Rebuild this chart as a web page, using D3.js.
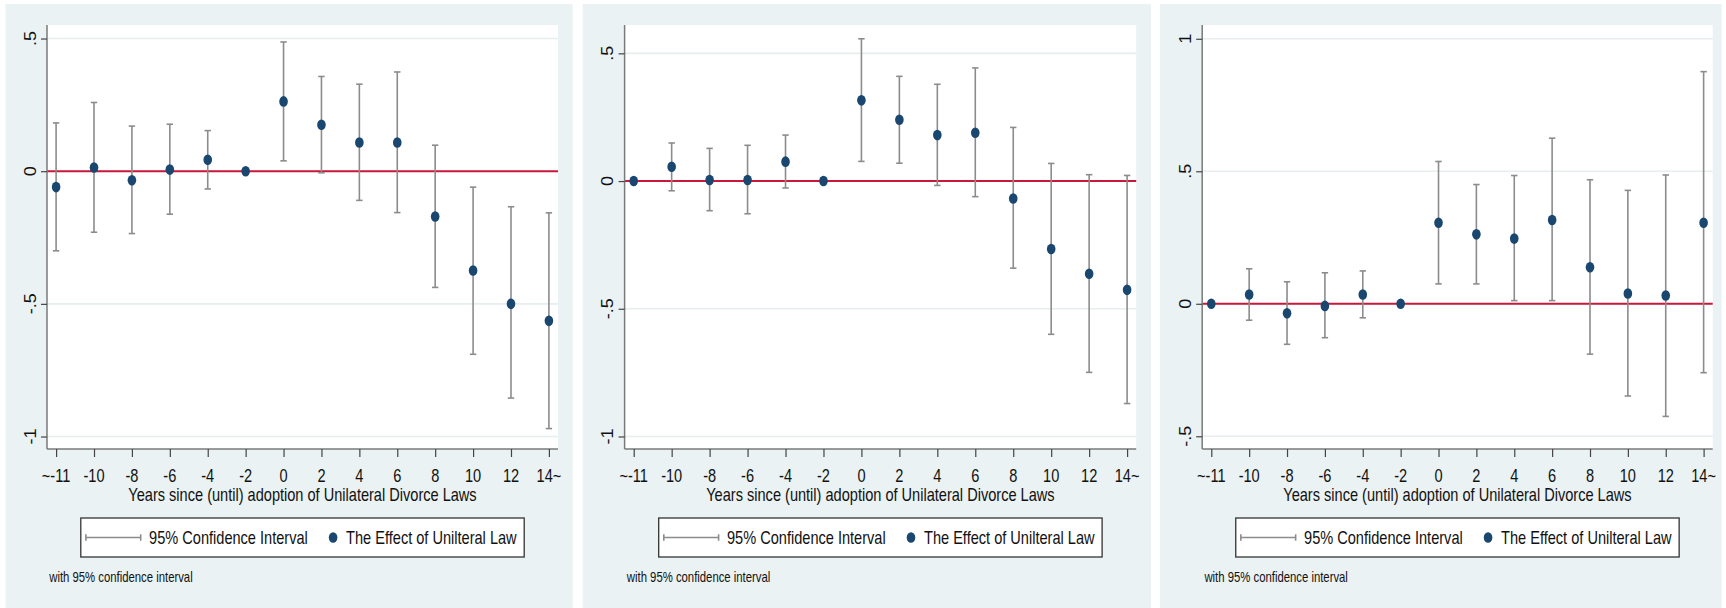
<!DOCTYPE html>
<html>
<head>
<meta charset="utf-8">
<script src="https://cdn.jsdelivr.net/npm/d3@7"></script>
<style>
  html, body { margin: 0; padding: 0; background: #ffffff; }
  svg { display: block; }
  text { font-family: "Liberation Sans", Arial, sans-serif; fill: #111; }
</style>
</head>
<body>
<svg id="chart" width="1726" height="608"></svg>
<script>
// Event-study categories (years relative to adoption of unilateral divorce laws)
const categories = ["~-11", "-10", "-8", "-6", "-4", "-2", "0", "2", "4", "6", "8", "10", "12", "14~"];

// Panel A: point estimates and 95% CI bounds (null = reference, no interval)
const effectA = [-0.06, 0.014, -0.034, 0.006, 0.043, 0, 0.263, 0.175, 0.108, 0.108, -0.171, -0.374, -0.50, -0.564];
const lowerA  = [-0.30, -0.23, -0.235, -0.162, -0.067, null, 0.039, -0.006, -0.11, -0.156, -0.438, -0.69, -0.855, -0.97];
const upperA  = [0.182, 0.259, 0.17, 0.177, 0.153, null, 0.487, 0.357, 0.328, 0.374, 0.098, -0.06, -0.134, -0.157];

// Panel B
const effectB = [0, 0.056, 0.004, 0.004, 0.076, 0, 0.316, 0.240, 0.18, 0.189, -0.068, -0.266, -0.363, -0.426];
const lowerB  = [null, -0.038, -0.116, -0.128, -0.027, null, 0.077, 0.07, -0.017, -0.061, -0.341, -0.60, -0.749, -0.871];
const upperB  = [null, 0.149, 0.128, 0.14, 0.18, null, 0.557, 0.41, 0.379, 0.443, 0.21, 0.069, 0.025, 0.022];

// Panel C
const effectC = [0, 0.035, -0.036, -0.008, 0.035, 0, 0.306, 0.262, 0.246, 0.316, 0.138, 0.039, 0.031, 0.306];
const lowerC  = [null, -0.062, -0.153, -0.128, -0.053, null, 0.075, 0.075, 0.012, 0.012, -0.19, -0.348, -0.425, -0.26];
const upperC  = [null, 0.132, 0.083, 0.117, 0.124, null, 0.537, 0.45, 0.484, 0.625, 0.468, 0.428, 0.486, 0.876];

// Y-axis ticks per panel
const yTicksA = [-1, -0.5, 0, 0.5];
const yTicksB = [-1, -0.5, 0, 0.5];
const yTicksC = [-0.5, 0, 0.5, 1];

// Y-axis ranges per panel
const yRangeA = [-1.047, 0.551];
const yRangeB = [-1.049, 0.611];
const yRangeC = [-0.548, 1.052];

// Text
const xTitle = "Years since (until) adoption of Unilateral Divorce Laws";
const legendCI = "95% Confidence Interval";
const legendPoint = "The Effect of Unilteral Law";
const noteText = "with 95% confidence interval";

// Styling
const C = {
  region: "#eaf2f3",
  grid: "#e6eef0",
  axis: "#7a7a7a",
  zero: "#c8193c",
  ci: "#8c8c8c",
  dot: "#1a476f",
  legendBorder: "#333333"
};
const FONT_SQ = 0.81;   // horizontal compression of the rendered type

const panels = [
  { effect: effectA, lower: lowerA, upper: upperA, yTicks: yTicksA, yRange: yRangeA,
    bg: [5.5, 572.7], plot: [47, 558] },
  { effect: effectB, lower: lowerB, upper: upperB, yTicks: yTicksB, yRange: yRangeB,
    bg: [582.7, 1151], plot: [624.6, 1136.2] },
  { effect: effectC, lower: lowerC, upper: upperC, yTicks: yTicksC, yRange: yRangeC,
    bg: [1160, 1721.7], plot: [1202.2, 1712.7] }
];

const PLOT_TOP = 25, PLOT_BOTTOM = 449;
const BG_TOP = 4, BG_BOTTOM = 608;

// Stata-like number labels: ".5", "-.5", "0", "1"
const stataFmt = v => {
  const s = d3.format("~g")(v).replace(/\u2212/g, "-");
  return s.replace(/^(-?)0\./, "$1.");
};

const svg = d3.select("#chart");

// helper for horizontally compressed text
function sqText(g, x, y, str, size, anchor, sq) {
  return g.append("text")
    .attr("transform", `translate(${x},${y}) scale(${sq},1)`)
    .attr("text-anchor", anchor)
    .style("font-size", size + "px")
    .text(str);
}

panels.forEach(p => {
  const g = svg.append("g");

  // graph region
  g.append("rect")
    .attr("x", p.bg[0]).attr("y", BG_TOP)
    .attr("width", p.bg[1] - p.bg[0]).attr("height", BG_BOTTOM - BG_TOP)
    .attr("fill", C.region);

  // plot region
  g.append("rect")
    .attr("x", p.plot[0]).attr("y", PLOT_TOP)
    .attr("width", p.plot[1] - p.plot[0]).attr("height", PLOT_BOTTOM - PLOT_TOP)
    .attr("fill", "#ffffff");

  const x = d3.scalePoint().domain(categories).range(p.plot).padding(0.24);
  const y = d3.scaleLinear().domain(p.yRange).range([PLOT_BOTTOM, PLOT_TOP]);

  // horizontal grid lines
  g.append("g").selectAll("line").data(p.yTicks).join("line")
    .attr("x1", p.plot[0]).attr("x2", p.plot[1])
    .attr("y1", d => y(d)).attr("y2", d => y(d))
    .attr("stroke", C.grid).attr("stroke-width", 1.6);

  // zero reference line
  g.append("line")
    .attr("x1", p.plot[0]).attr("x2", p.plot[1])
    .attr("y1", y(0)).attr("y2", y(0))
    .attr("stroke", C.zero).attr("stroke-width", 2);

  // y axis
  const yAxis = d3.axisLeft(y).tickValues(p.yTicks).tickSize(6).tickFormat("");
  const ya = g.append("g").attr("transform", `translate(${p.plot[0]},0)`).call(yAxis);
  ya.select(".domain").attr("d", `M-0,${PLOT_TOP}V${PLOT_BOTTOM}`).attr("stroke", C.axis).attr("stroke-width", 1.5);
  ya.selectAll(".tick line").attr("stroke", "#444").attr("stroke-width", 1.2);

  // y tick labels (rotated)
  const yLabX = p.plot[0] - 17.4;
  p.yTicks.forEach(t => {
    g.append("text")
      .attr("transform", `translate(${yLabX},${y(t)}) scale(0.95,1) rotate(-90)`)
      .attr("text-anchor", "middle")
      .attr("dy", "0.36em")
      .style("font-size", "18px")
      .text(stataFmt(t));
  });

  // x axis
  const xAxis = d3.axisBottom(x).tickSize(8).tickFormat("");
  const xa = g.append("g").attr("transform", `translate(0,${PLOT_BOTTOM})`).call(xAxis);
  xa.select(".domain").attr("d", `M${p.plot[0]},0H${p.plot[1]}`).attr("stroke", C.axis).attr("stroke-width", 1.5);
  xa.selectAll(".tick line").attr("stroke", "#444").attr("stroke-width", 1.2);

  // x tick labels
  categories.forEach(c => sqText(g, x(c), 481.5, c, 18, "middle", FONT_SQ));

  // x axis title
  const cx = (p.plot[0] + p.plot[1]) / 2;
  sqText(g, cx, 501, xTitle, 18, "middle", FONT_SQ);

  // confidence intervals
  const idx = d3.range(categories.length).filter(i => p.lower[i] !== null);
  const ci = g.append("g").attr("stroke", C.ci).attr("stroke-width", 1.6);
  ci.selectAll("line.v").data(idx).join("line").attr("class", "v")
    .attr("x1", i => x(categories[i])).attr("x2", i => x(categories[i]))
    .attr("y1", i => y(p.lower[i])).attr("y2", i => y(p.upper[i]));
  ci.selectAll("line.lo").data(idx).join("line").attr("class", "lo")
    .attr("x1", i => x(categories[i]) - 3.2).attr("x2", i => x(categories[i]) + 3.2)
    .attr("y1", i => y(p.lower[i])).attr("y2", i => y(p.lower[i]));
  ci.selectAll("line.hi").data(idx).join("line").attr("class", "hi")
    .attr("x1", i => x(categories[i]) - 3.2).attr("x2", i => x(categories[i]) + 3.2)
    .attr("y1", i => y(p.upper[i])).attr("y2", i => y(p.upper[i]));

  // point estimates
  g.append("g").selectAll("ellipse").data(p.effect).join("ellipse")
    .attr("cx", (d, i) => x(categories[i]))
    .attr("cy", d => y(d))
    .attr("rx", 4.3).attr("ry", 5.3)
    .attr("fill", C.dot);

  // legend
  const lx = cx - 221.7, ly = 518, lw = 443.4, lh = 39, lmid = ly + lh / 2;
  const lg = g.append("g");
  lg.append("rect").attr("x", lx).attr("y", ly).attr("width", lw).attr("height", lh)
    .attr("fill", "#ffffff").attr("stroke", C.legendBorder).attr("stroke-width", 1.3);
  const sx0 = lx + 5.1, sx1 = lx + 59.9;
  lg.append("line").attr("x1", sx0).attr("x2", sx1).attr("y1", lmid).attr("y2", lmid)
    .attr("stroke", C.ci).attr("stroke-width", 1.6);
  [sx0, sx1].forEach(sx => lg.append("line").attr("x1", sx).attr("x2", sx)
    .attr("y1", lmid - 3.2).attr("y2", lmid + 3.2).attr("stroke", C.ci).attr("stroke-width", 1.6));
  sqText(lg, lx + 68.3, lmid + 6.5, legendCI, 18, "start", FONT_SQ);
  lg.append("ellipse").attr("cx", lx + 252.3).attr("cy", lmid).attr("rx", 4.3).attr("ry", 5.3).attr("fill", C.dot);
  sqText(lg, lx + 265.3, lmid + 6.5, legendPoint, 18, "start", FONT_SQ);

  // note
  sqText(g, p.plot[0] + 2.2, 582, noteText, 14, "start", 0.81);
});
</script>
</body>
</html>
